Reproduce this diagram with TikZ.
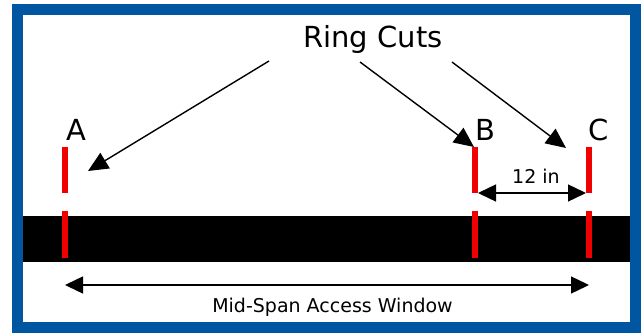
\documentclass[tikz,border=0pt]{standalone}
\usepackage{fontspec}
\setmainfont{DejaVu Sans}
\usetikzlibrary{arrows.meta}
\definecolor{frameblue}{RGB}{0,86,160}
\definecolor{cutred}{RGB}{240,0,0}
\tikzset{
  cutmark/.style={draw=cutred,line width=6pt},
  pointer/.style={draw=black,line width=1.4pt,-{Triangle[length=20pt,width=18pt]}},
  dim/.style={draw=black,line width=1.4pt,{Triangle[length=18pt,width=17pt]}-{Triangle[length=18pt,width=17pt]}},
  biglabel/.style={font=\fontsize{29}{31}\selectfont,inner sep=0pt,anchor=base},
  smalllabel/.style={font=\fontsize{19}{21}\selectfont,inner sep=0pt,anchor=base}
}
\begin{document}
\begin{tikzpicture}[x=1pt,y=-1pt]
\useasboundingbox (0,0) rectangle (641,333);
\fill[white] (0,0) rectangle (641,333);
% cable
\fill[black] (23,216) rectangle (630,262);
% frame
\draw[frameblue,line width=11pt] (17.5,9.5) rectangle (635,327.5);
% cut marks
\foreach \n/\x in {A/65,B/475,C/589}{
  \draw[cutmark] (\x,147) -- (\x,193);
  \draw[cutmark] (\x,211) -- (\x,258);
}
% labels
\node[biglabel] (A) at (76.5,140) {A};
\node[biglabel] (B) at (485,140) {B};
\node[biglabel] (C) at (598.5,140) {C};
\node[biglabel] (ring) at (373,47.5) {Ring Cuts};
% pointers
\coordinate (p1) at (269,61);
\coordinate (t1) at (88,171);
\coordinate (p2) at (360,62);
\coordinate (t2) at (474,147);
\coordinate (p3) at (452,62);
\coordinate (t3) at (566,148);
\draw[pointer] (p1) -- (t1);
\draw[pointer] (p2) -- (t2);
\draw[pointer] (p3) -- (t3);
% 12 in dimension
\coordinate (d1) at (478,193);
\coordinate (d2) at (586,193);
\draw[dim] (d1) -- (d2);
\node[smalllabel] (twelve) at (536,183) {12 in};
% mid-span dimension
\coordinate (m1) at (65,285);
\coordinate (m2) at (589,285);
\draw[dim] (m1) -- (m2);
\node[smalllabel] (window) at (332.5,312) {Mid-Span Access Window};
\end{tikzpicture}
\end{document}
